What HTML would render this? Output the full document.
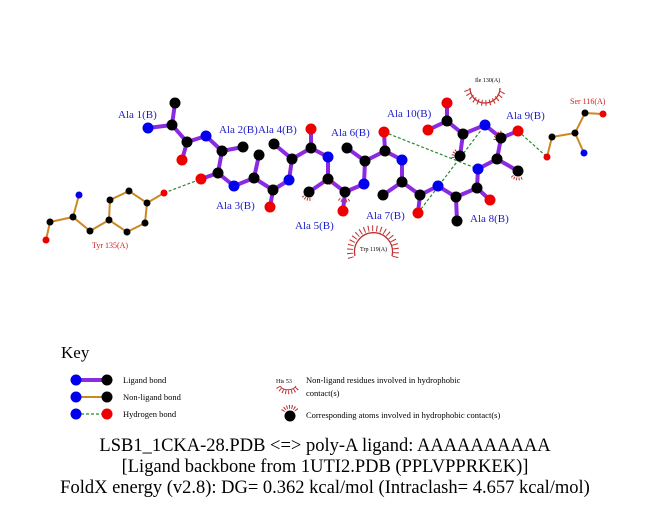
<!DOCTYPE html>
<html><head><meta charset="utf-8"><style>
html,body{margin:0;padding:0;background:#fff;}
svg{display:block;font-family:"Liberation Serif",serif;}
</style></head><body>
<svg width="651" height="511" viewBox="0 0 651 511" xmlns="http://www.w3.org/2000/svg">
<g stroke="#8a2be2" stroke-width="4" fill="none" stroke-linecap="round">
<polyline points="148,128 172,125 175,103"/>
<polyline points="172,125 187,142 182,160"/>
<polyline points="187,142 206,136 222,151 243,147"/>
<polyline points="222,151 218,173 201,179"/>
<polyline points="218,173 234,186 254,178 259,155"/>
<polyline points="254,178 273,190 270,207"/>
<polyline points="273,190 289,180 292,159 274,144"/>
<polyline points="292,159 311,148 311,129"/>
<polyline points="311,148 328,157 328,179 309,192"/>
<polyline points="328,179 345,192 343,211"/>
<polyline points="345,192 364,184 365,161 347,148"/>
<polyline points="365,161 385,151 384,132"/>
<polyline points="385,151 402,160 402,182 383,195"/>
<polyline points="402,182 420,195 418,213"/>
<polyline points="420,195 438,186 456,197 457,221"/>
<polyline points="456,197 477,188 490,200"/>
<polyline points="477,188 478,169 497,159 518,171"/>
<polyline points="497,159 501,138 518,131"/>
<polyline points="501,138 485,125 463,134 460,156"/>
<polyline points="463,134 447,121 447,103"/>
<polyline points="447,121 428,130"/>
</g>
<g stroke="#cc8822" stroke-width="2" fill="none">
<polyline points="164,193 147,203 129,191 110,200 109,220 127,232 145,223 147,203"/>
<polyline points="109,220 90,231 73,217 79,195"/>
<polyline points="73,217 50,222 46,240"/>
<polyline points="547,157 552,137 575,133 584,153"/>
<polyline points="575,133 585,113 603,114"/>
<line x1="76" y1="397" x2="107" y2="397"/>
</g>
<line x1="76" y1="380" x2="107" y2="380" stroke="#8a2be2" stroke-width="4"/>
<g stroke="#2a8a2a" stroke-width="1.2" stroke-dasharray="3,2" fill="none">
<line x1="164" y1="193" x2="201" y2="179"/>
<line x1="384" y1="132" x2="478" y2="169"/>
<line x1="418" y1="213" x2="485" y2="125"/>
<line x1="518" y1="131" x2="547" y2="157"/>
<line x1="76" y1="414" x2="107" y2="414"/>
</g>
<g stroke="#c03030" fill="none">
<path d="M355,256 A19,19 0 1 1 392,256" stroke-width="1.3"/>
<path d="M351,258 A23,23 0 1 1 395,258" stroke-width="6" stroke-dasharray="1,3.2"/>
<path d="M470,88 A15,15 0 0 0 500,88" stroke-width="1.3"/>
<path d="M467,90 A19,19 0 0 0 503,90" stroke-width="6" stroke-dasharray="1,3"/>
<path d="M280,386 A9,7 0 0 0 296,386" stroke-width="1"/>
<path d="M278,387 A11,9 0 0 0 298,387" stroke-width="4" stroke-dasharray="1,2"/>
<path d="M303,196 A8,8 0 0 0 312,199" stroke-width="3" stroke-dasharray="1,1.5"/>
<path d="M339,199 A8,8 0 0 0 350,199" stroke-width="3" stroke-dasharray="1,1.5"/>
<path d="M323,180 A8,8 0 0 0 334,182" stroke-width="3" stroke-dasharray="1,1.5"/>
<path d="M512,176 A8,8 0 0 0 522,178" stroke-width="3" stroke-dasharray="1,1.5"/>
<path d="M453,158 A8,8 0 0 1 457,150" stroke-width="3" stroke-dasharray="1,1.5"/>
<path d="M495,140 A8,8 0 0 1 502,132" stroke-width="3" stroke-dasharray="1,1.5"/>
<path d="M362,188 A8,8 0 0 1 360,181" stroke-width="3" stroke-dasharray="1,1.5"/>
<path d="M283,411 A8,8 0 0 1 297,411" stroke-width="4" stroke-dasharray="1,1.5"/>
</g>
<g fill="#000">
<circle cx="172" cy="125" r="5.5"/><circle cx="175" cy="103" r="5.5"/><circle cx="187" cy="142" r="5.5"/>
<circle cx="222" cy="151" r="5.5"/><circle cx="243" cy="147" r="5.5"/><circle cx="218" cy="173" r="5.5"/>
<circle cx="254" cy="178" r="5.5"/><circle cx="259" cy="155" r="5.5"/><circle cx="273" cy="190" r="5.5"/>
<circle cx="292" cy="159" r="5.5"/><circle cx="274" cy="144" r="5.5"/><circle cx="311" cy="148" r="5.5"/>
<circle cx="328" cy="179" r="5.5"/><circle cx="309" cy="192" r="5.5"/><circle cx="345" cy="192" r="5.5"/>
<circle cx="365" cy="161" r="5.5"/><circle cx="347" cy="148" r="5.5"/><circle cx="385" cy="151" r="5.5"/>
<circle cx="402" cy="182" r="5.5"/><circle cx="383" cy="195" r="5.5"/><circle cx="420" cy="195" r="5.5"/>
<circle cx="456" cy="197" r="5.5"/><circle cx="457" cy="221" r="5.5"/><circle cx="477" cy="188" r="5.5"/>
<circle cx="497" cy="159" r="5.5"/><circle cx="518" cy="171" r="5.5"/><circle cx="501" cy="138" r="5.5"/>
<circle cx="463" cy="134" r="5.5"/><circle cx="460" cy="156" r="5.5"/><circle cx="447" cy="121" r="5.5"/>
<circle cx="107" cy="380" r="5.5"/><circle cx="107" cy="397" r="5.5"/><circle cx="290" cy="416" r="5.5"/>
</g>
<g fill="#0000ee">
<circle cx="148" cy="128" r="5.5"/><circle cx="206" cy="136" r="5.5"/><circle cx="234" cy="186" r="5.5"/>
<circle cx="289" cy="180" r="5.5"/><circle cx="328" cy="157" r="5.5"/><circle cx="364" cy="184" r="5.5"/>
<circle cx="402" cy="160" r="5.5"/><circle cx="438" cy="186" r="5.5"/><circle cx="478" cy="169" r="5.5"/>
<circle cx="485" cy="125" r="5.5"/>
<circle cx="76" cy="380" r="5.5"/><circle cx="76" cy="397" r="5.5"/><circle cx="76" cy="414" r="5.5"/>
</g>
<g fill="#ee0000">
<circle cx="182" cy="160" r="5.5"/><circle cx="201" cy="179" r="5.5"/><circle cx="270" cy="207" r="5.5"/>
<circle cx="311" cy="129" r="5.5"/><circle cx="343" cy="211" r="5.5"/><circle cx="384" cy="132" r="5.5"/>
<circle cx="418" cy="213" r="5.5"/><circle cx="490" cy="200" r="5.5"/><circle cx="518" cy="131" r="5.5"/>
<circle cx="447" cy="103" r="5.5"/><circle cx="428" cy="130" r="5.5"/><circle cx="107" cy="414" r="5.5"/>
</g>
<g fill="#000">
<circle cx="147" cy="203" r="3.5"/><circle cx="129" cy="191" r="3.5"/><circle cx="110" cy="200" r="3.5"/>
<circle cx="109" cy="220" r="3.5"/><circle cx="127" cy="232" r="3.5"/><circle cx="145" cy="223" r="3.5"/>
<circle cx="90" cy="231" r="3.5"/><circle cx="73" cy="217" r="3.5"/><circle cx="50" cy="222" r="3.5"/>
<circle cx="552" cy="137" r="3.5"/><circle cx="575" cy="133" r="3.5"/><circle cx="585" cy="113" r="3.5"/>
</g>
<g fill="#0000ee"><circle cx="79" cy="195" r="3.5"/><circle cx="584" cy="153" r="3.5"/></g>
<g fill="#ee0000"><circle cx="164" cy="193" r="3.5"/><circle cx="46" cy="240" r="3.5"/><circle cx="547" cy="157" r="3.5"/><circle cx="603" cy="114" r="3.5"/></g>
<g fill="#1a1acc" font-size="11">
<text x="118" y="118">Ala 1(B)</text>
<text x="219" y="133">Ala 2(B)</text>
<text x="258" y="133">Ala 4(B)</text>
<text x="216" y="209">Ala 3(B)</text>
<text x="295" y="229">Ala 5(B)</text>
<text x="331" y="136">Ala 6(B)</text>
<text x="366" y="219">Ala 7(B)</text>
<text x="470" y="222">Ala 8(B)</text>
<text x="506" y="119">Ala 9(B)</text>
<text x="387" y="117">Ala 10(B)</text>
</g>
<g fill="#cc2222" font-size="8">
<text x="92" y="248">Tyr 135(A)</text>
<text x="570" y="104">Ser 116(A)</text>
</g>
<g fill="#000" font-size="6">
<text x="360" y="251">Trp 119(A)</text>
<text x="475" y="82">Ile 130(A)</text>
<text x="276" y="383">His 53</text>
</g>
<text x="61" y="358" font-size="17">Key</text>
<g font-size="8.5" fill="#000">
<text x="123" y="383">Ligand bond</text>
<text x="123" y="400">Non-ligand bond</text>
<text x="123" y="417">Hydrogen bond</text>
<text x="306" y="383">Non-ligand residues involved in hydrophobic</text>
<text x="306" y="396">contact(s)</text>
<text x="306" y="418">Corresponding atoms involved in hydrophobic contact(s)</text>
</g>
<g font-size="18.5" text-anchor="middle" fill="#000">
<text x="325" y="451">LSB1_1CKA-28.PDB &lt;=&gt; poly-A ligand: AAAAAAAAAA</text>
<text x="325" y="472">[Ligand backbone from 1UTI2.PDB (PPLVPPRKEK)]</text>
<text x="325" y="493">FoldX energy (v2.8): DG= 0.362 kcal/mol (Intraclash= 4.657 kcal/mol)</text>
</g>
</svg>
</body></html>
